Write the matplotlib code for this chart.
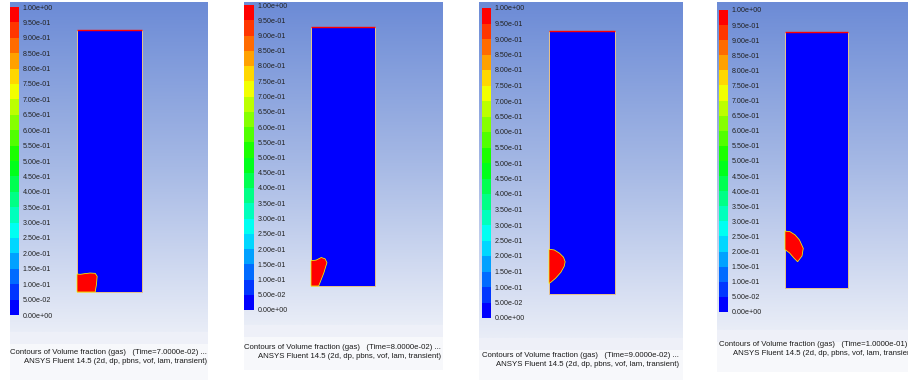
import matplotlib
matplotlib.use('Agg')
import matplotlib.pyplot as plt
import numpy as np
from matplotlib.colors import ListedColormap, BoundaryNorm, LinearSegmentedColormap, hsv_to_rgb
from matplotlib.colorbar import ColorbarBase
from matplotlib.patches import Polygon, Rectangle

plt.rcParams['font.family'] = ['Liberation Sans', 'DejaVu Sans']

W, H = 908, 383

# volume fraction contour levels (20 bands)
levels = [0.00, 0.05, 0.10, 0.15, 0.20, 0.25, 0.30, 0.35, 0.40, 0.45, 0.50,
          0.55, 0.60, 0.65, 0.70, 0.75, 0.80, 0.85, 0.90, 0.95, 1.00]
liquid_frac = 0.0
gas_frac = 1.0

times = ['7.0000e-02', '8.0000e-02', '9.0000e-02', '1.0000e-01']

# gas bubble outlines, x in domain widths, y in domain widths from the bottom wall
bubble_x = [
    [0.00, 0.28, 0.30, 0.31, 0.28, 0.20, 0.12, 0.05, 0.00],
    [0.00, 0.12, 0.16, 0.20, 0.23, 0.25, 0.22, 0.16, 0.08, 0.00],
    [0.00, 0.08, 0.16, 0.22, 0.245, 0.23, 0.18, 0.10, 0.03, 0.00],
    [0.00, 0.08, 0.16, 0.23, 0.29, 0.27, 0.20, 0.14, 0.07, 0.00],
]
bubble_y = [
    [0.00, 0.00, 0.12, 0.24, 0.285, 0.29, 0.28, 0.27, 0.275],
    [0.00, 0.00, 0.10, 0.20, 0.30, 0.36, 0.42, 0.44, 0.40, 0.39],
    [0.68, 0.67, 0.62, 0.56, 0.49, 0.42, 0.33, 0.24, 0.18, 0.16],
    [0.89, 0.88, 0.83, 0.75, 0.62, 0.50, 0.41, 0.47, 0.55, 0.60],
]
DOMAIN_H = 4.0

# panel layout in pixels: background box, colorbar, domain, caption
panels = [
    dict(bg=(10, 208, 2, 332, 380), cb=(10, 19, 7, 315), dom=(77, 142, 30, 292), txt=(10, 349)),
    dict(bg=(244, 443, 2, 325, 370), cb=(244, 254, 5, 310), dom=(311, 375, 27, 286), txt=(244, 344)),
    dict(bg=(479, 683, 2, 338, 380), cb=(482, 491, 8, 318), dom=(549, 615, 31, 294), txt=(482, 352)),
    dict(bg=(717, 908, 2, 330, 372), cb=(719, 728, 10, 312), dom=(785, 848, 32, 288), txt=(719, 341)),
]

# Fluent rainbow: blue -> red in constant-saturation hue steps
nb = len(levels) - 1
band_rgb = [hsv_to_rgb((2.0 / 3.0 * (1 - i / (nb - 1)), 1.0, 1.0)) for i in range(nb)]
cmap = ListedColormap(band_rgb)
norm = BoundaryNorm(levels, cmap.N)

bg_cmap = LinearSegmentedColormap.from_list('bg', ['#6c8bd6', '#a6b9e5', '#e9edf7'])


def px_axes(fig, x0, x1, y0, y1):
    return fig.add_axes([x0 / W, 1 - y1 / H, (x1 - x0) / W, (y1 - y0) / H])


fig = plt.figure(figsize=(W / 100, H / 100), dpi=100)
fig.patch.set_facecolor('white')

for k, p in enumerate(panels):
    x0, x1, y0, yg, yb = p['bg']

    # window background
    bg = px_axes(fig, x0, x1, y0, yb)
    bg.set_xlim(x0, x1)
    bg.set_ylim(yb, y0)
    bg.axis('off')
    grad = np.linspace(0, 1, 256).reshape(-1, 1)
    bg.imshow(grad, cmap=bg_cmap, aspect='auto', extent=(x0, x1, yg, y0))
    bg.add_patch(Rectangle((x0, yg), x1 - x0, 12, color='#eef0f8', lw=0))
    bg.add_patch(Rectangle((x0, yg + 12), x1 - x0, yb - yg - 12, color='#f7f8fb', lw=0))

    # colour scale
    cx0, cx1, cy0, cy1 = p['cb']
    cax = px_axes(fig, cx0, cx1, cy0, cy1)
    cb = ColorbarBase(cax, cmap=cmap, norm=norm, boundaries=levels, ticks=levels,
                      orientation='vertical', spacing='uniform')
    cb.outline.set_visible(False)
    cax.set_yticklabels([f'{v:.2e}' for v in levels])
    cax.tick_params(length=0, pad=2.5, labelsize=5.1, colors='#222222')

    # computational domain with the gas bubble
    dx0, dx1, dy0, dy1 = p['dom']
    ax = px_axes(fig, dx0, dx1, dy0, dy1)
    ax.set_xlim(0, 1)
    ax.set_ylim(0, DOMAIN_H)
    ax.axis('off')
    ax.add_patch(Rectangle((0, 0), 1, DOMAIN_H, facecolor=cmap(norm(liquid_frac)),
                           edgecolor='#e8c48a', lw=0.7, clip_on=False))
    ax.add_patch(Polygon(np.column_stack([bubble_x[k], bubble_y[k]]), closed=True,
                         facecolor=cmap(norm(gas_frac)), edgecolor=cmap(norm(0.7)),
                         lw=0.55, clip_on=False))
    ax.plot([0, 1], [DOMAIN_H, DOMAIN_H], color=cmap(norm(gas_frac)), lw=1.0,
            clip_on=False, solid_capstyle='butt')

    # caption
    tx, ty = p['txt']
    fig.text(tx / W, 1 - ty / H,
             f'Contours of Volume fraction (gas)   (Time={times[k]}) ...\n'
             'ANSYS Fluent 14.5 (2d, dp, pbns, vof, lam, transient)',
             ha='left', va='top', multialignment='right', fontsize=5.6,
             linespacing=1.4, color='#1a1a1a')

fig.savefig('out.png', dpi=100)
